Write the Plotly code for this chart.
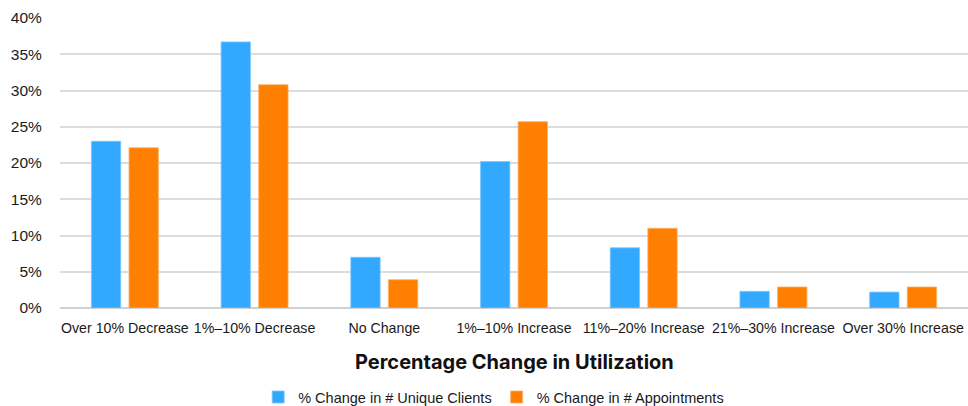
import plotly.graph_objects as go

categories = [
    "Over 10% Decrease",
    "1%–10% Decrease",
    "No Change",
    "1%–10% Increase",
    "11%–20% Increase",
    "21%–30% Increase",
    "Over 30% Increase",
]
unique_clients = [23.0, 36.7, 7.0, 20.2, 8.3, 2.3, 2.2]
appointments = [22.1, 30.8, 3.9, 25.7, 11.0, 2.9, 2.9]
y_ticks = [0, 5, 10, 15, 20, 25, 30, 35, 40]
y_tick_labels = [f"{v}%" for v in y_ticks]

FONT = "Liberation Sans, Arial, sans-serif"
TITLE_FONT = "Inter, Roboto, Arial, sans-serif"

fig = go.Figure()
fig.add_trace(go.Bar(
    name="% Change in # Unique Clients",
    x=categories, y=unique_clients,
    marker=dict(color="#33A8FF", line=dict(color="#7cc6ff", width=0.8)),
))
fig.add_trace(go.Bar(
    name="% Change in # Appointments",
    x=categories, y=appointments,
    marker=dict(color="#FF8000", line=dict(color="#ffad66", width=0.8)),
))

fig.update_layout(
    width=968, height=406,
    margin=dict(l=60, r=0, t=18, b=98),
    paper_bgcolor="white", plot_bgcolor="white",
    barmode="group", bargap=0.42, bargroupgap=0.22,
    font=dict(family=FONT, size=14, color="#1a1a1a"),
    showlegend=True,
    legend=dict(
        orientation="h", xref="container", yref="container",
        x=0.51, xanchor="center", y=0.022, yanchor="middle",
        font=dict(size=14.5, color="#1a1a1a"),
        itemwidth=30, tracegroupgap=0,
    ),
    xaxis=dict(
        showgrid=False, zeroline=False, showline=False,
        ticks="", tickangle=0, automargin=False,
        ticklabelstandoff=10,
        tickfont=dict(size=14.2),
    ),
    yaxis=dict(
        range=[0, 40], tickvals=y_ticks, ticktext=y_tick_labels,
        showgrid=True, gridcolor="#dcdcdc", gridwidth=1.5,
        zeroline=True, zerolinecolor="#d0d0d0", zerolinewidth=1.5,
        ticks="outside", ticklen=14, tickcolor="white",
        tickfont=dict(size=15.5), automargin=False,
    ),
    annotations=[dict(
        text="<b>Percentage Change in Utilization</b>",
        xref="paper", yref="paper", x=0.5, y=0, yshift=-54,
        xanchor="center", yanchor="middle", showarrow=False,
        font=dict(size=20, color="#111111", family=TITLE_FONT),
    )],
)

fig.write_html("out.html")
